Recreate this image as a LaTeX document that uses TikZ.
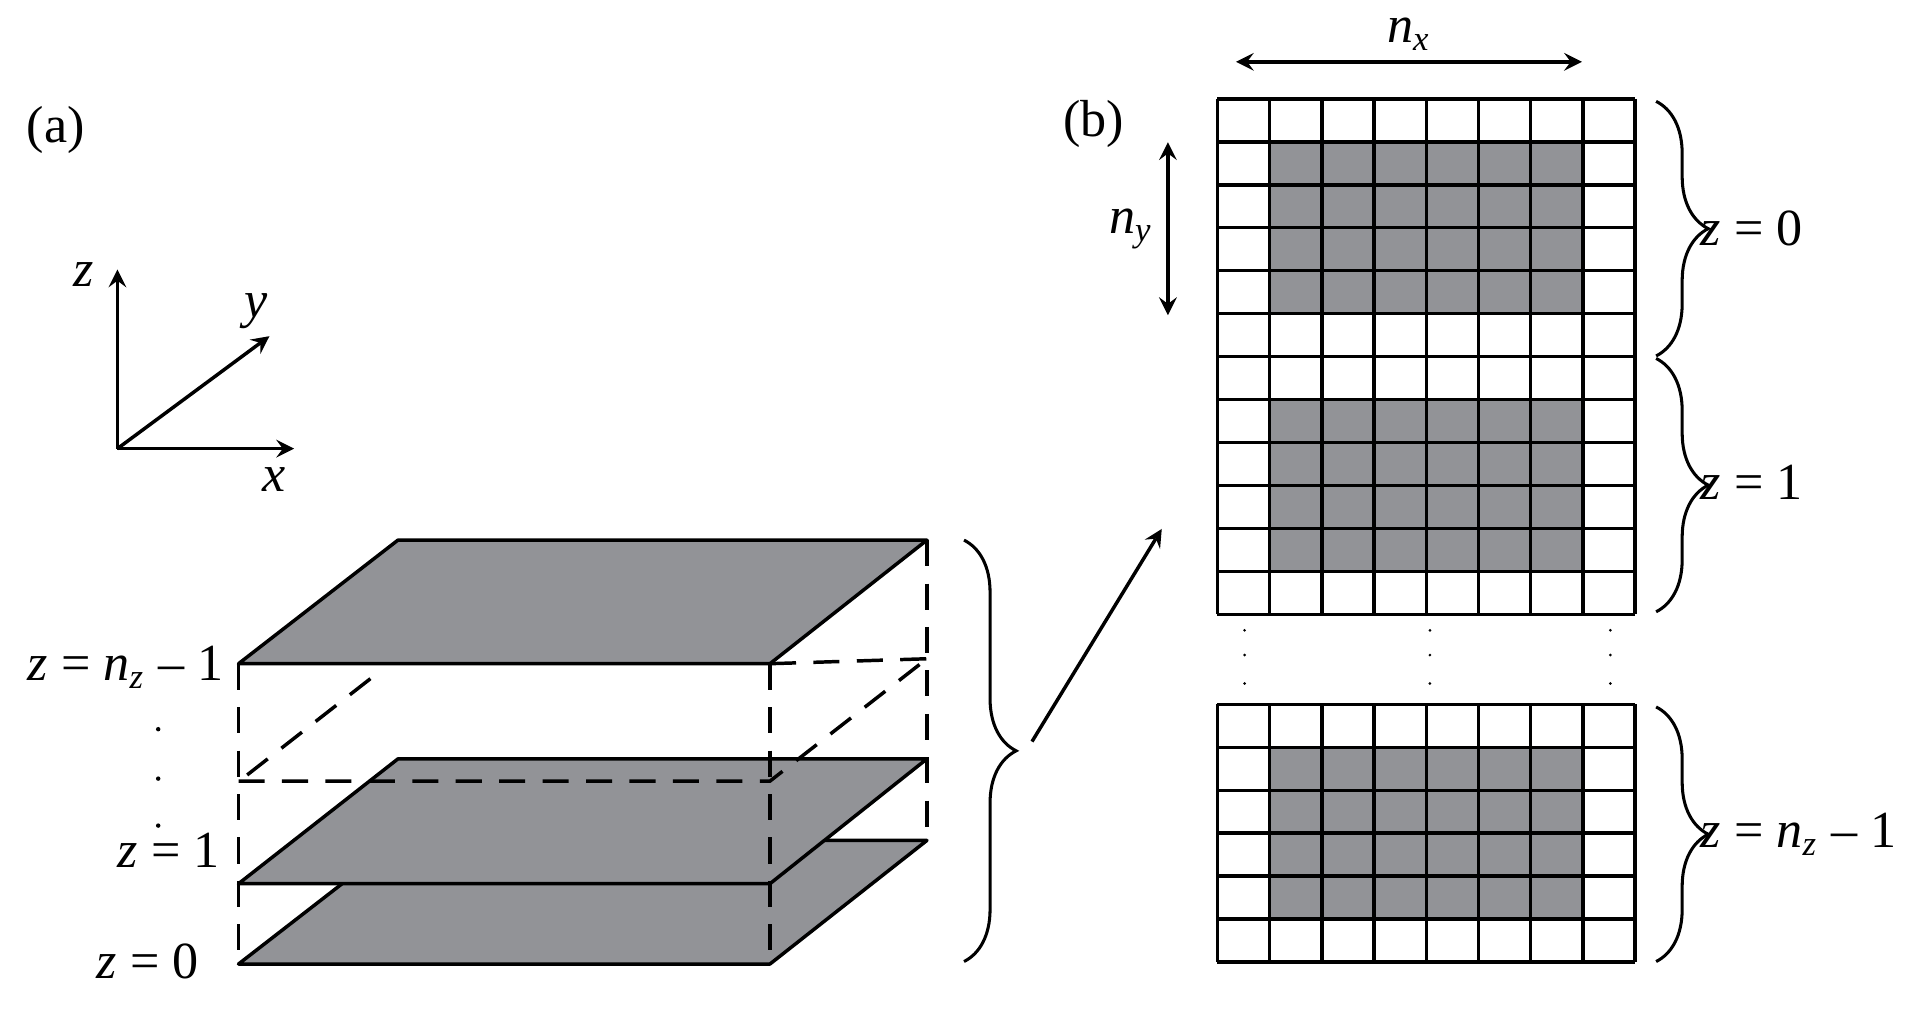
\documentclass[tikz,border=0pt]{standalone}
\usepackage{fontspec}
\setmainfont{Liberation Serif}
\usetikzlibrary{arrows,decorations.pathreplacing}
\definecolor{plategray}{RGB}{146,147,151}
\newcommand{\iv}[1]{\textit{#1}}
\newcommand{\nsub}[1]{\textit{n}\textsubscript{\textit{#1}}}
\tikzstyle{plate} = [fill=plategray, draw=black, line width=0.8pt, line join=round]
\tikzstyle{hidden} = [dashed, dash pattern=on 6pt off 4pt, line width=0.8pt]
\tikzstyle{arrow} = [line width=0.8pt,->,>=stealth]
\tikzstyle{dblarrow} = [line width=0.8pt,<->,>=stealth]
\tikzstyle{lbl} = [font=\fontsize{12}{14}\selectfont, inner sep=1pt]
\tikzstyle{brace} = [decorate, decoration={brace, amplitude=12pt}, line width=0.7pt]

\begin{document}
\begin{tikzpicture}[x=0.1mm, y=-0.1mm]
\useasboundingbox (0,0) rectangle (1560,818);

% panel labels
\node [lbl] (lab_a) at (45,105) {(a)};
\node [lbl] (lab_b) at (885,100) {(b)};

% axes
\coordinate (origin) at (95,363);
\draw [arrow] (origin) -- (95,218) coordinate (zend);
\draw [arrow] (origin) -- (238,363) coordinate (xend);
\draw [arrow] (origin) -- (218,272) coordinate (yend);
\node [lbl] (zax) at (68,222) {\iv{z}};
\node [lbl] (yax) at (207,252) {\iv{y}};
\node [lbl] (xax) at (222,388) {\iv{x}};

% stack of layers
\draw [plate] (193,780) -- (623,780) -- (750,680) -- (322,680) -- cycle;
\draw [plate] (193,715) -- (623,715) -- (750,614) -- (322,614) -- cycle;
\draw [hidden] (193,632) -- (623,632) -- (750,533);
\draw [hidden] (200,627) -- (305,545);
\draw [hidden] (623,537) -- (750,533);
\draw [plate] (193,537) -- (623,537) -- (750,437) -- (322,437) -- cycle;
\draw [hidden] (193,537) -- (193,780);
\draw [hidden] (623,537) -- (623,780);
\draw [hidden] (750,437) -- (750,680);

\node [lbl, anchor=east] (lay_top) at (185,540) {\iv{z} = \nsub{z} – 1};
\node [lbl, anchor=east] (lay_one) at (182,688) {\iv{z} = 1};
\node [lbl, anchor=east] (lay_zero) at (165,778) {\iv{z} = 0};
\foreach \yy in {590,630,668}
  \fill (128,\yy) circle (1.8);

\draw [brace] (780,437) -- (780,778) coordinate[midway] (stackmid);
\coordinate (stacktip) at (835,600);
\coordinate (gridin) at (940,428);
\draw [arrow] (stacktip) -- (gridin);

% grids
\foreach \r in {1,...,4} \foreach \c in {1,...,6} {
  \fill [plategray] (985+42.25*\c,80+34.75*\r) rectangle ++(42.25,34.75);
  \fill [plategray] (985+42.25*\c,288.5+34.75*\r) rectangle ++(42.25,34.75);
  \fill [plategray] (985+42.25*\c,570+34.7*\r) rectangle ++(42.25,34.7);
}
\foreach \c in {0,...,8} {
  \draw [line width=0.8pt] (985+42.25*\c,80) -- (985+42.25*\c,497);
  \draw [line width=0.8pt] (985+42.25*\c,570) -- (985+42.25*\c,778);
}
\foreach \r in {0,...,12}
  \draw [line width=0.8pt] (985,80+34.75*\r) -- (1323,80+34.75*\r);
\foreach \r in {0,...,6}
  \draw [line width=0.8pt] (985,570+34.7*\r) -- (1323,570+34.7*\r);
\foreach \xx in {1007,1157,1303} \foreach \yy in {510,530,553}
  \fill (\xx,\yy) circle (1.2);

% sizes
\draw [dblarrow] (1000,50) -- (1280,50);
\node [lbl] (nx) at (1140,28) {\nsub{x}};
\draw [dblarrow] (945,115) -- (945,255);
\node [lbl] (ny) at (915,185) {\nsub{y}};

% braces of grid
\draw [brace] (1340,82) -- (1340,288);
\node [lbl, anchor=west] (gz0) at (1372,185) {\iv{z} = 0};
\draw [brace] (1340,290) -- (1340,495);
\node [lbl, anchor=west] (gz1) at (1372,390) {\iv{z} = 1};
\draw [brace] (1340,572) -- (1340,778);
\node [lbl, anchor=west] (gzn) at (1372,675) {\iv{z} = \nsub{z} – 1};

\end{tikzpicture}
\end{document}
